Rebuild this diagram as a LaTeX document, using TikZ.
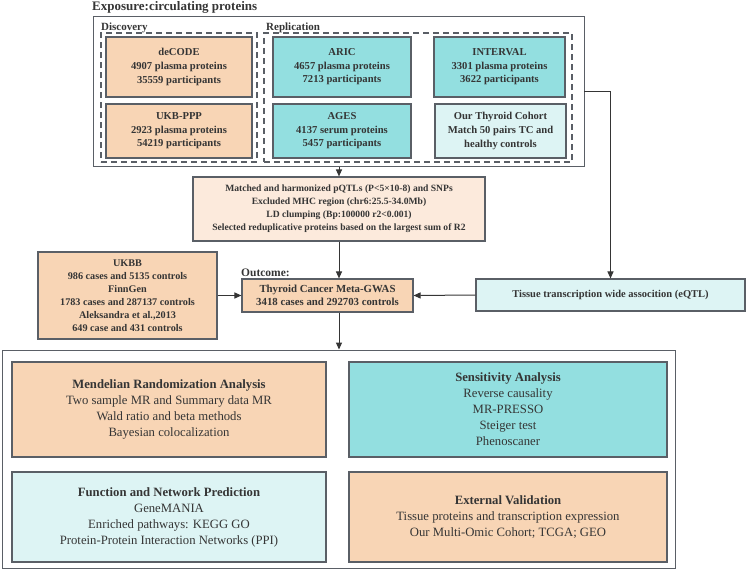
\documentclass[tikz,border=0pt]{standalone}
\usepackage{fontspec}
\setmainfont{Liberation Serif}
\usepackage{tikz}
\usetikzlibrary{positioning, arrows.meta, calc}
\definecolor{mypeach}{HTML}{F8D5B5}
\definecolor{mylightpeach}{HTML}{FCEADC}
\definecolor{myteal}{HTML}{93DFE0}
\definecolor{mycyan}{HTML}{DDF4F4}
\definecolor{myborder}{HTML}{5A5F66}
\definecolor{mytext}{HTML}{353535}
\tikzset{
	defaultnode/.style={
			rectangle,
			draw=myborder,
			line width=1.1pt,
			text=mytext,
			align=center,
			inner sep=2pt
		},
	peachnode/.style={
			defaultnode,
			fill=mypeach,
			font=\bfseries\fontsize{10.6}{13.6}\selectfont
		},
	tealnode/.style={
			defaultnode,
			fill=myteal,
			font=\bfseries\fontsize{10.6}{13.6}\selectfont
		},
	cyannode/.style={
			defaultnode,
			fill=mycyan,
			font=\bfseries\fontsize{10.6}{13.6}\selectfont
		},
	filternode/.style={
			defaultnode,
			fill=mylightpeach,
			font=\bfseries\fontsize{9.6}{12.9}\selectfont
		},
	bignode/.style={
			defaultnode,
			font=\fontsize{12.7}{16}\selectfont
		},
	framenode/.style={
			rectangle,
			draw=myborder,
			line width=0.9pt,
			inner sep=0pt
		},
	dashnode/.style={
			rectangle,
			draw=myborder,
			dashed,
			dash pattern=on 6pt off 4pt,
			line width=1.3pt,
			inner sep=0pt
		},
	labelnode/.style={
			text=mytext,
			inner sep=0pt,
			font=\bfseries\fontsize{11}{13}\selectfont
		},
	flow/.style={
			line width=1pt,
			draw=mytext,
			-{Triangle[length=7pt,width=6pt]}
		}
}

\begin{document}
\begin{tikzpicture}[x=1pt, y=-1pt]
\useasboundingbox (0,0) rectangle (747,570);

% exposure part
\node[labelnode, anchor=south west, font=\bfseries\fontsize{13}{15}\selectfont] (exptitle) at (92,14) {Exposure:circulating proteins};
\node[framenode, minimum width=491pt, minimum height=150pt] (expo) at (338.5,91.5) {};
\node[dashnode, minimum width=156pt, minimum height=129pt] (disc) at (179,97.5) {};
\node[dashnode, minimum width=308pt, minimum height=129pt] (repl) at (418,97.5) {};
\node[labelnode, anchor=south west] (disclabel) at (101,33) {Discovery};
\node[labelnode, anchor=south west] (repllabel) at (266,33) {Replication};

\node[peachnode, minimum width=146pt, minimum height=60pt] (decode) at (179,67) {deCODE\\4907 plasma proteins\\35559 participants};
\node[peachnode, minimum width=146pt, minimum height=54pt] (ukbppp) at (179,131) {UKB-PPP\\2923 plasma proteins\\54219 participants};
\node[tealnode, minimum width=138pt, minimum height=60pt] (aric) at (342,67) {ARIC\\4657 plasma proteins\\7213 participants};
\node[tealnode, minimum width=138pt, minimum height=54pt] (ages) at (342,131) {AGES\\4137 serum proteins\\5457 participants};
\node[tealnode, minimum width=131pt, minimum height=60pt] (interval) at (499.5,67) {INTERVAL\\3301 plasma proteins\\3622 participants};
\node[cyannode, minimum width=131pt, minimum height=54pt] (cohort) at (500.5,131) {Our Thyroid Cohort\\Match 50 pairs TC and\\healthy controls};

% instrument selection
\node[filternode, minimum width=292pt, minimum height=64pt] (match) at (339,209) {Matched and harmonized pQTLs (P<5×10-8) and SNPs\\Excluded MHC region (chr6:25.5-34.0Mb)\\LD clumping (Bp:100000 r2<0.001)\\Selected reduplicative proteins based on the largest sum of R2};

% outcome part
\node[peachnode, minimum width=179pt, minimum height=87pt, font=\bfseries\fontsize{10.2}{12.9}\selectfont] (ukbb) at (127.5,295.5) {UKBB\\986 cases and 5135 controls\\FinnGen\\1783 cases and 287137 controls\\Aleksandra et al.,2013\\649 case and 431 controls};
\node[peachnode, minimum width=171pt, minimum height=33pt, font=\bfseries\fontsize{10.8}{13.5}\selectfont] (tc) at (327.5,295.5) {Thyroid Cancer Meta-GWAS\\3418 cases and 292703 controls};
\node[labelnode, anchor=south west, font=\bfseries\fontsize{11.5}{13}\selectfont] (outlabel) at (241,277) {Outcome:};
\node[cyannode, minimum width=269pt, minimum height=32pt, font=\bfseries\fontsize{10.5}{13}\selectfont] (tissue) at (610.5,295) {Tissue transcription wide assocition (eQTL)};

% analyses
\node[framenode, minimum width=673pt, minimum height=218pt] (result) at (338.5,459) {};
\node[bignode, fill=mypeach, minimum width=314pt, minimum height=95pt] (mr) at (169,409.5) {\textbf{Mendelian Randomization Analysis}\\Two sample MR and Summary data MR\\Wald ratio and beta methods\\Bayesian colocalization};
\node[bignode, fill=myteal, minimum width=318pt, minimum height=95pt] (sens) at (508,409.5) {\textbf{Sensitivity Analysis}\\Reverse causality\\MR-PRESSO\\Steiger test\\Phenoscaner};
\node[bignode, fill=mycyan, minimum width=314pt, minimum height=90pt] (func) at (169,517) {\textbf{Function and Network Prediction}\\GeneMANIA\\Enriched pathways: KEGG GO\\Protein-Protein Interaction Networks (PPI)};
\node[bignode, fill=mypeach, minimum width=318pt, minimum height=90pt] (valid) at (508,517) {\textbf{External Validation}\\Tissue proteins and transcription expression\\Our Multi-Omic Cohort; TCGA; GEO};

\draw[flow] (match.north |- expo.south) -- (match.north);
\draw[flow] (match.south) -- (match.south |- tc.north);
\draw[flow] (ukbb.east |- tc.west) -- (tc.west);
\draw[flow] (tissue.west) -- (tc.east);
\draw[flow] (expo.east) -| (tissue.north);
\draw[flow] (match.south |- tc.south) -- (match.south |- result.north);
\end{tikzpicture}
\end{document}
